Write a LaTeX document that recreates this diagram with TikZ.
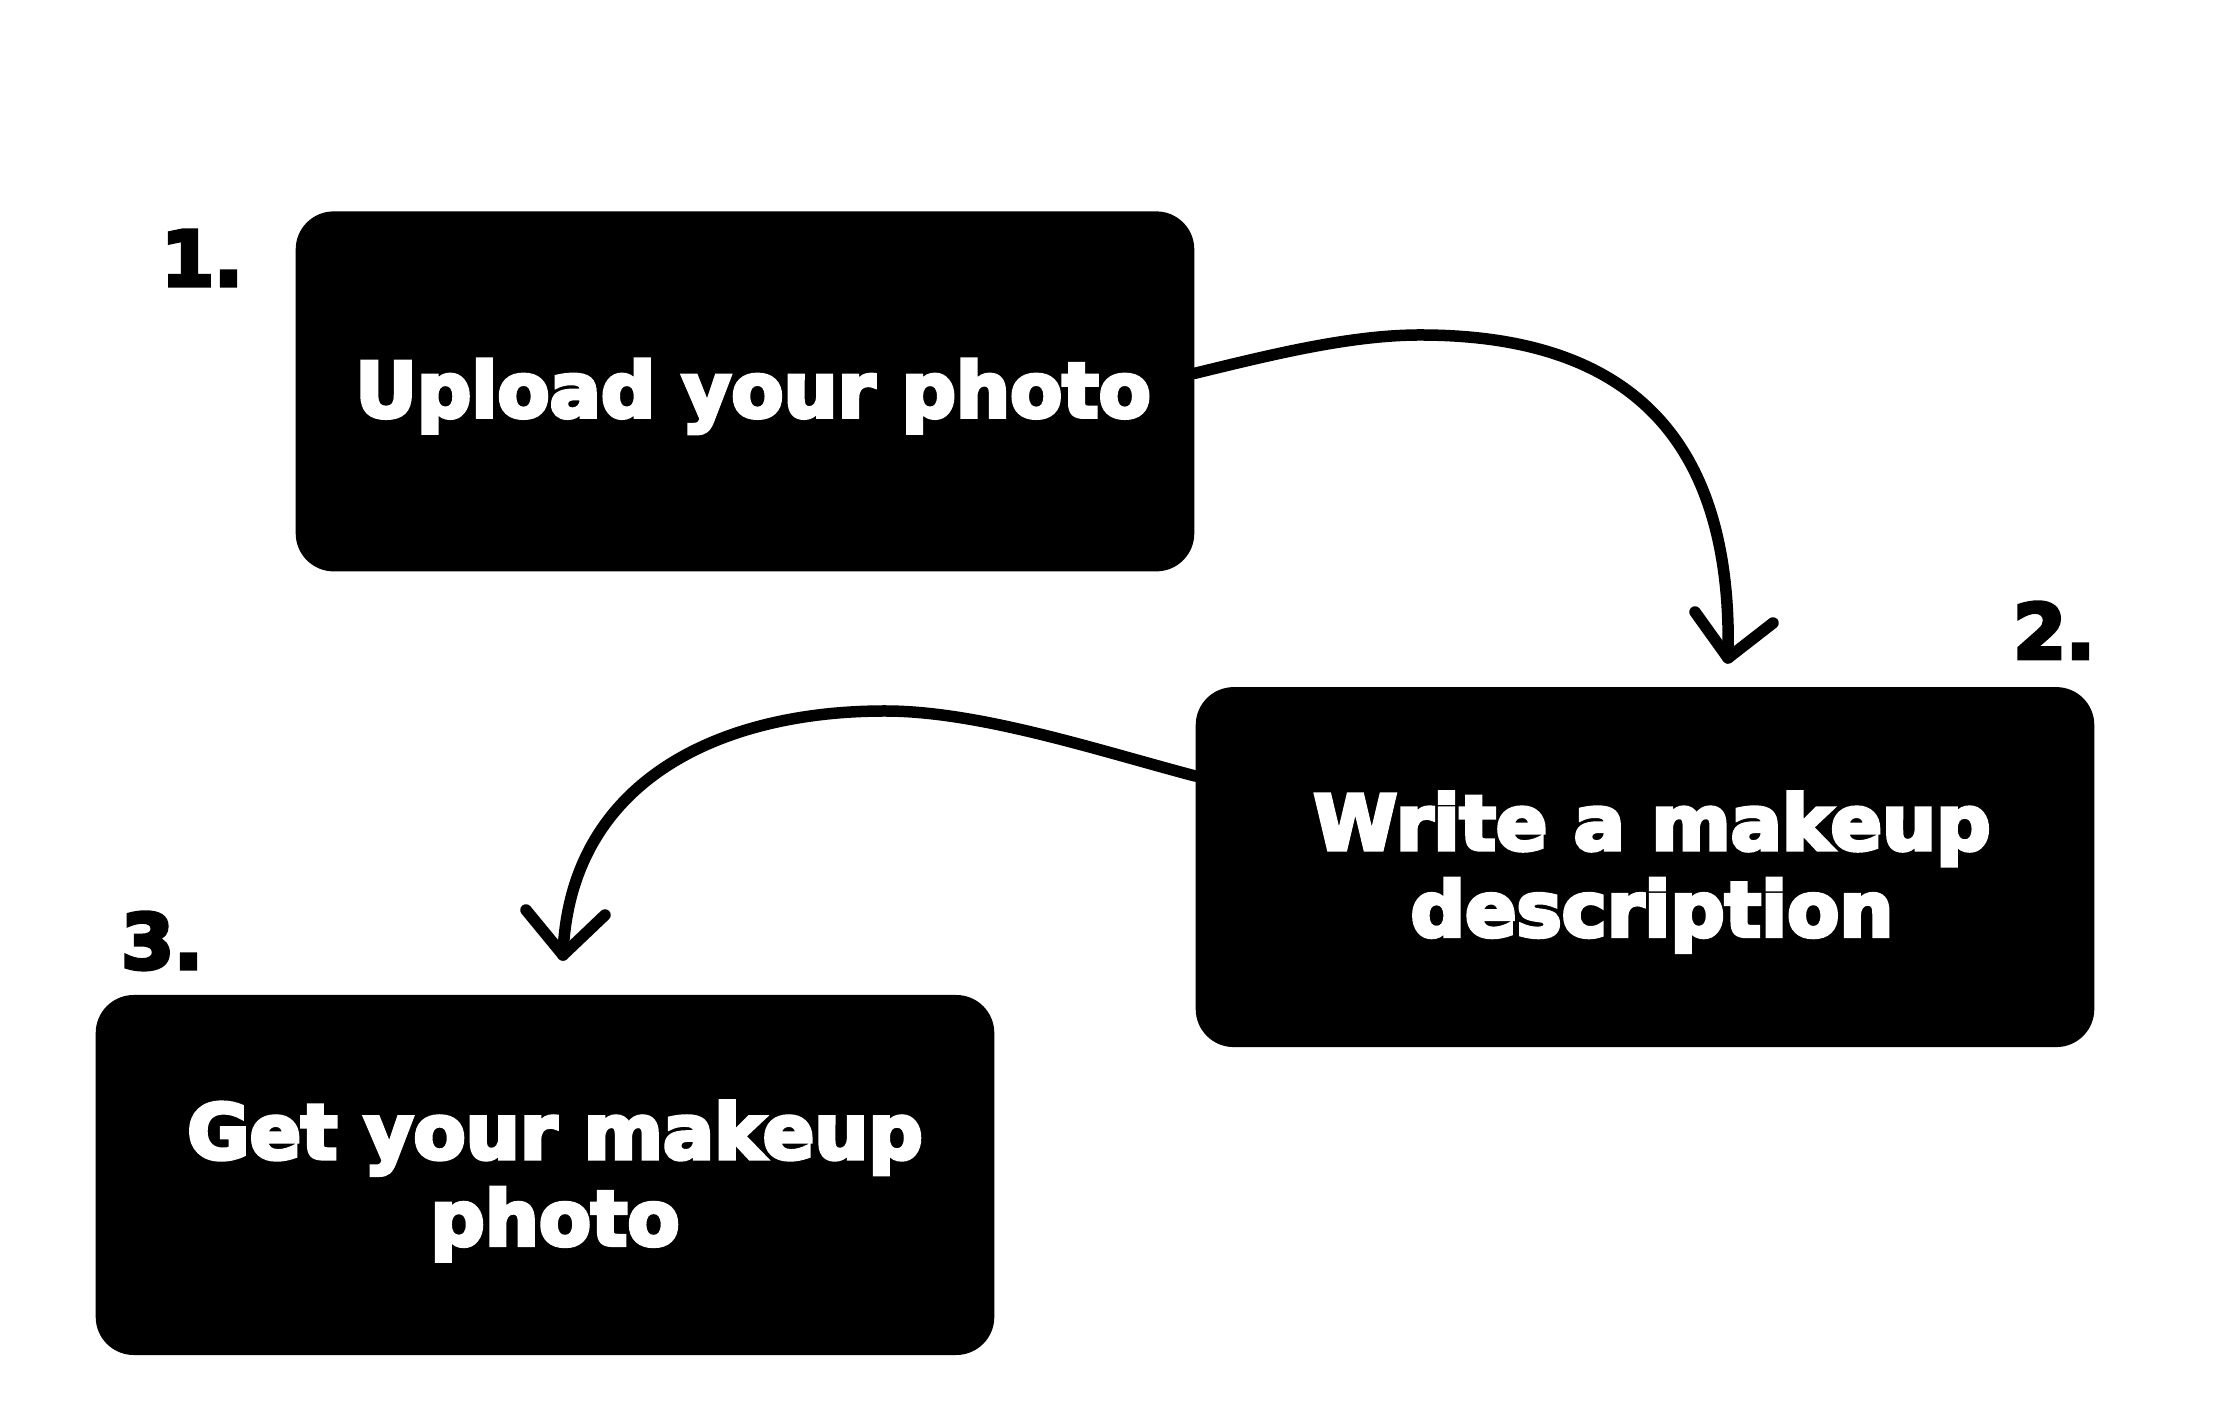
\documentclass[tikz,border=0pt]{standalone}
\usepackage{fontspec}
\newfontfamily\heavy{DejaVu Sans Bold}[RawFeature={embolden=5}]
\usetikzlibrary{calc}
\begin{document}
\begin{tikzpicture}[x=1pt,y=1pt,
  stepbox/.style={fill=black, rounded corners=38pt, minimum width=898.6pt, minimum height=360pt,
    inner sep=0pt},
  boxtext/.style={inner sep=0pt, text=white, align=center, font=\heavy\fontsize{76}{86.5}\selectfont},
  numlabel/.style={anchor=base west, inner sep=0pt, text=black, font=\heavy\fontsize{76}{76}\selectfont},
  conn/.style={line width=11.5pt, line cap=round, line join=round},
  headline/.style={line width=11.5pt, line cap=round, line join=round}]
\fill[white] (0,0) rectangle (2240,1424);
\useasboundingbox (0,0) rectangle (2240,1424);
% boxes
\node[stepbox] (b1) at (745,1032.6) {};
\node[stepbox] (b2) at (1645,556.9) {};
\node[stepbox] (b3) at (545,249) {};
\node[boxtext] (l1) at ([yshift=-5pt,xshift=8pt]b1.center) {Upload your photo};
\node[boxtext] (l2) at ([yshift=-5pt,xshift=7pt]b2.center) {Write a makeup\\description};
\node[boxtext] (l3) at ([yshift=-6pt,xshift=10pt]b3.center) {Get your makeup\\photo};
% numbers
\node[numlabel] (n1) at (161,1138.3) {1.};
\node[numlabel] (n2) at (2013,765.4) {2.};
\node[numlabel] (n3) at (121,455.4) {3.};
% connector 1 -> 2
\coordinate (p1) at (1420,1089);
\coordinate (t1) at (1728,766);
\draw[conn] ([yshift=18pt]b1.east) .. controls (1270,1069) and (1350,1089) .. (p1)
  .. controls (1612,1089) and (1734,1002) .. (t1);
\draw[headline] ($(t1)+(-33,46)$) -- (t1) -- ($(t1)+(45,35)$);
% connector 2 -> 3
\coordinate (p2) at (885,713);
\coordinate (t2) at (563,469);
\draw[conn] ([yshift=91pt]b2.west) .. controls (1100,673) and (980,713) .. (p2)
  .. controls (715,713) and (569,640) .. (t2);
\draw[headline] ($(t2)+(-37,45)$) -- (t2) -- ($(t2)+(42,40)$);
\end{tikzpicture}
\end{document}
